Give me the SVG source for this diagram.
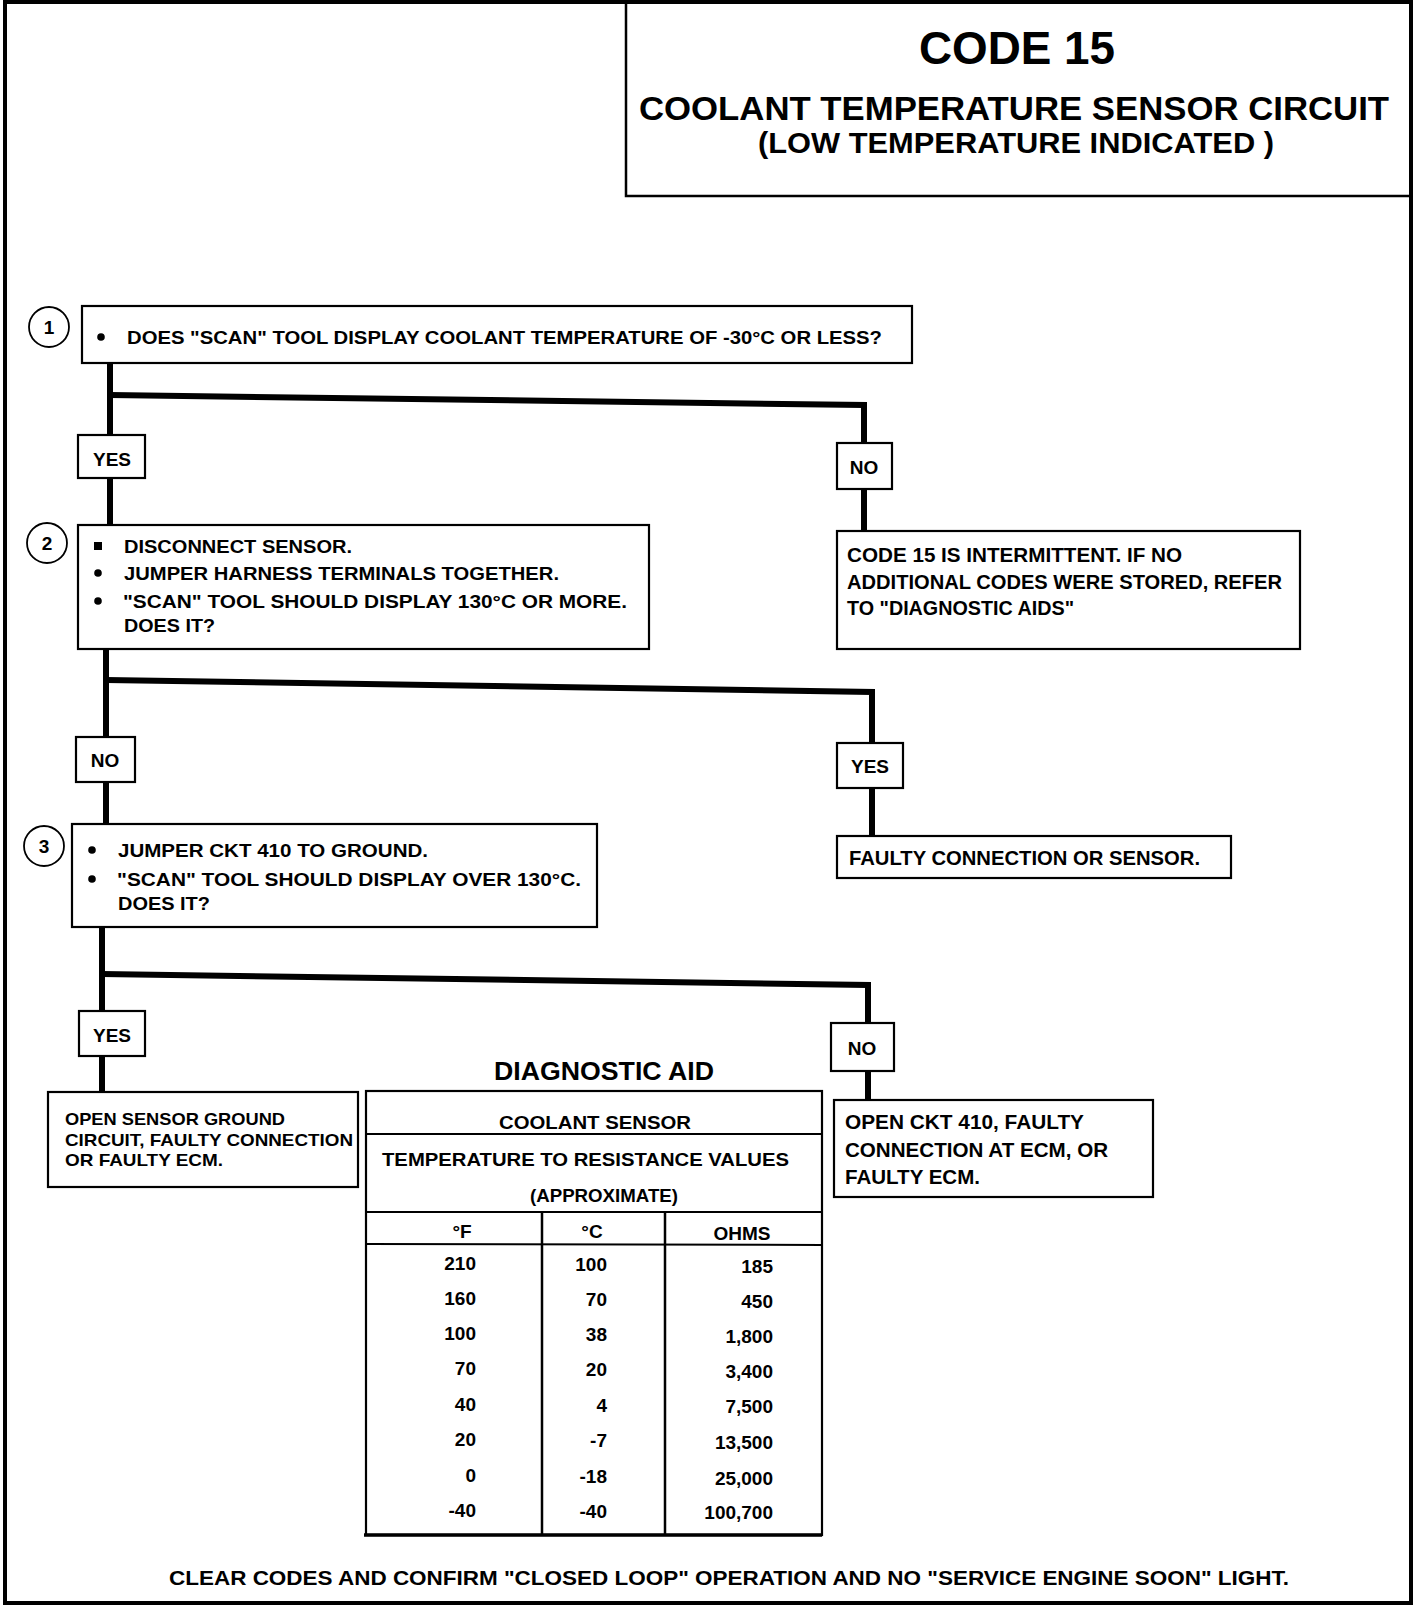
<svg xmlns="http://www.w3.org/2000/svg" width="1424" height="1608" viewBox="0 0 1424 1608">
<style>
.frame{fill:none;stroke:#000;stroke-width:4}
.box{fill:#fff;stroke:#000;stroke-width:2.2}
.conn{fill:none;stroke:#000;stroke-width:6;stroke-linejoin:miter;stroke-linecap:butt}
.tl{fill:none;stroke:#000;stroke-width:2}
.t{font-family:"Liberation Sans",Arial,sans-serif;font-weight:bold;font-size:19px;fill:#000}
.r{font-size:20px}
.h{font-family:"Liberation Sans",Arial,sans-serif;font-weight:bold;fill:#000}
.c{text-anchor:middle}
.e{text-anchor:end}
.dot{fill:#000}
</style>
<rect width="1424" height="1608" fill="#fff"/>
<rect class="frame" x="5" y="2" width="1406" height="1601"/>

<g id="title">
<path d="M626 2 V196 H1411" fill="none" stroke="#000" stroke-width="2.5"/>
<text class="h" x="919" y="64" font-size="46" textLength="196" lengthAdjust="spacingAndGlyphs">CODE 15</text>
<text class="h" x="639" y="120" font-size="33" textLength="750" lengthAdjust="spacingAndGlyphs">COOLANT TEMPERATURE SENSOR CIRCUIT</text>
<text class="h" x="758" y="153" font-size="29" textLength="516" lengthAdjust="spacingAndGlyphs">(LOW TEMPERATURE INDICATED )</text>
</g>

<g id="connectors">
<path class="conn" d="M110 363 V525"/>
<path class="conn" d="M864 531 V405 L110 395"/>
<path class="conn" d="M106 649 V824"/>
<path class="conn" d="M872 836 V692 L106 680"/>
<path class="conn" d="M102 927 V1092"/>
<path class="conn" d="M868 1100 V985 L102 974"/>
</g>

<g id="step1">
<circle cx="49" cy="327" r="20" fill="#fff" stroke="#000" stroke-width="1.8"/>
<text class="t c" x="49" y="334" font-size="19">1</text>
<rect class="box" x="82" y="306" width="830" height="57"/>
<circle class="dot" cx="101" cy="337" r="3.8"/>
<text class="t" x="127" y="344" textLength="755" lengthAdjust="spacingAndGlyphs">DOES "SCAN" TOOL DISPLAY COOLANT TEMPERATURE OF -30°C OR LESS?</text>
</g>

<g id="yes1">
<rect class="box" x="78" y="435" width="67" height="43"/>
<text class="t c" x="112" y="466">YES</text>
</g>
<g id="no1">
<rect class="box" x="837" y="443" width="55" height="46"/>
<text class="t c" x="864" y="474">NO</text>
</g>

<g id="result1">
<rect class="box" x="837" y="531" width="463" height="118"/>
<text class="t r" x="847" y="562" textLength="335" lengthAdjust="spacingAndGlyphs">CODE 15 IS INTERMITTENT.  IF NO</text>
<text class="t r" x="847" y="589" textLength="435" lengthAdjust="spacingAndGlyphs">ADDITIONAL CODES WERE STORED, REFER</text>
<text class="t r" x="847" y="615" textLength="227" lengthAdjust="spacingAndGlyphs">TO "DIAGNOSTIC AIDS"</text>
</g>

<g id="step2">
<circle cx="47" cy="543" r="20" fill="#fff" stroke="#000" stroke-width="1.8"/>
<text class="t c" x="47" y="550">2</text>
<rect class="box" x="78" y="525" width="571" height="124"/>
<rect class="dot" x="94" y="542" width="8" height="8"/>
<text class="t" x="124" y="553" textLength="228" lengthAdjust="spacingAndGlyphs">DISCONNECT SENSOR.</text>
<circle class="dot" cx="98" cy="573" r="3.8"/>
<text class="t" x="124" y="580" textLength="435" lengthAdjust="spacingAndGlyphs">JUMPER HARNESS TERMINALS TOGETHER.</text>
<circle class="dot" cx="98" cy="601" r="3.8"/>
<text class="t" x="123" y="608" textLength="504" lengthAdjust="spacingAndGlyphs">"SCAN" TOOL SHOULD DISPLAY 130°C OR MORE.</text>
<text class="t" x="124" y="632" textLength="91" lengthAdjust="spacingAndGlyphs">DOES IT?</text>
</g>

<g id="no2">
<rect class="box" x="76" y="737" width="59" height="45"/>
<text class="t c" x="105" y="767">NO</text>
</g>
<g id="yes2">
<rect class="box" x="837" y="743" width="66" height="45"/>
<text class="t c" x="870" y="773">YES</text>
</g>

<g id="result2">
<rect class="box" x="837" y="836" width="394" height="42"/>
<text class="t r" x="849" y="865" textLength="351" lengthAdjust="spacingAndGlyphs">FAULTY CONNECTION OR SENSOR.</text>
</g>

<g id="step3">
<circle cx="44" cy="846" r="20" fill="#fff" stroke="#000" stroke-width="1.8"/>
<text class="t c" x="44" y="853">3</text>
<rect class="box" x="72" y="824" width="525" height="103"/>
<circle class="dot" cx="92" cy="850" r="3.8"/>
<text class="t" x="118" y="857" textLength="310" lengthAdjust="spacingAndGlyphs">JUMPER CKT 410 TO GROUND.</text>
<circle class="dot" cx="92" cy="879" r="3.8"/>
<text class="t" x="117" y="886" textLength="464" lengthAdjust="spacingAndGlyphs">"SCAN" TOOL SHOULD DISPLAY OVER 130°C.</text>
<text class="t" x="118" y="910" textLength="92" lengthAdjust="spacingAndGlyphs">DOES IT?</text>
</g>

<g id="yes3">
<rect class="box" x="79" y="1011" width="66" height="45"/>
<text class="t c" x="112" y="1042">YES</text>
</g>
<g id="no3">
<rect class="box" x="831" y="1023" width="63" height="48"/>
<text class="t c" x="862" y="1055">NO</text>
</g>

<g id="result3yes">
<rect class="box" x="48" y="1092" width="310" height="95"/>
<text class="h" x="65" y="1125" font-size="17" textLength="220" lengthAdjust="spacingAndGlyphs">OPEN SENSOR GROUND</text>
<text class="h" x="65" y="1146" font-size="17" textLength="288" lengthAdjust="spacingAndGlyphs">CIRCUIT, FAULTY CONNECTION</text>
<text class="h" x="65" y="1166" font-size="17" textLength="158" lengthAdjust="spacingAndGlyphs">OR FAULTY ECM.</text>
</g>

<g id="result3no">
<rect class="box" x="834" y="1100" width="319" height="97"/>
<text class="t r" x="845" y="1129" textLength="239" lengthAdjust="spacingAndGlyphs">OPEN CKT  410, FAULTY</text>
<text class="t r" x="845" y="1157" textLength="263" lengthAdjust="spacingAndGlyphs">CONNECTION AT ECM, OR</text>
<text class="t r" x="845" y="1184" textLength="135" lengthAdjust="spacingAndGlyphs">FAULTY ECM.</text>
</g>

<g id="diagnostic-aid">
<text class="h" x="494" y="1080" font-size="25" textLength="220" lengthAdjust="spacingAndGlyphs">DIAGNOSTIC AID</text>
<rect class="box" x="366" y="1091" width="456" height="444"/>
<line x1="364" y1="1535" x2="822" y2="1535" stroke="#000" stroke-width="3.5"/>
<line class="tl" x1="366" y1="1134" x2="822" y2="1134"/>
<line class="tl" x1="366" y1="1212" x2="822" y2="1212"/>
<line class="tl" x1="366" y1="1244" x2="822" y2="1245"/>
<line x1="542" y1="1212" x2="542" y2="1535" stroke="#000" stroke-width="2.5"/>
<line x1="665" y1="1212" x2="665" y2="1535" stroke="#000" stroke-width="2.5"/>
<text class="t" x="499" y="1129" textLength="192" lengthAdjust="spacingAndGlyphs">COOLANT SENSOR</text>
<text class="t" x="382" y="1166" textLength="407" lengthAdjust="spacingAndGlyphs">TEMPERATURE TO RESISTANCE VALUES</text>
<text class="t" x="530" y="1202" textLength="148" lengthAdjust="spacingAndGlyphs">(APPROXIMATE)</text>
<text class="t c" x="462" y="1238">°F</text>
<text class="t c" x="592" y="1238">°C</text>
<text class="t c" x="742" y="1240">OHMS</text>
<g class="t e">
<text x="476" y="1270">210</text><text x="607" y="1271">100</text><text x="773" y="1273">185</text>
<text x="476" y="1305">160</text><text x="607" y="1306">70</text><text x="773" y="1308">450</text>
<text x="476" y="1340">100</text><text x="607" y="1341">38</text><text x="773" y="1343">1,800</text>
<text x="476" y="1375">70</text><text x="607" y="1376">20</text><text x="773" y="1378">3,400</text>
<text x="476" y="1411">40</text><text x="607" y="1412">4</text><text x="773" y="1413">7,500</text>
<text x="476" y="1446">20</text><text x="607" y="1447">-7</text><text x="773" y="1449">13,500</text>
<text x="476" y="1482">0</text><text x="607" y="1483">-18</text><text x="773" y="1485">25,000</text>
<text x="476" y="1517">-40</text><text x="607" y="1518">-40</text><text x="773" y="1519">100,700</text>
</g>
</g>

<g id="footer">
<text class="h" x="169" y="1585" font-size="21" textLength="1120" lengthAdjust="spacingAndGlyphs">CLEAR CODES AND CONFIRM "CLOSED LOOP" OPERATION AND NO "SERVICE  ENGINE SOON" LIGHT.</text>
</g>
</svg>
